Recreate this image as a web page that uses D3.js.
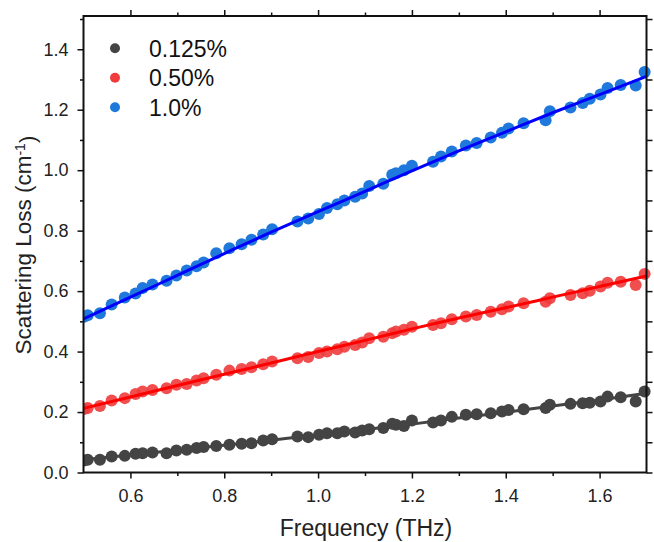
<!DOCTYPE html>
<html>
<head>
<meta charset="utf-8">
<script src="https://cdn.jsdelivr.net/npm/d3@7"></script>
<style>
    body { margin: 0; background: #fff; }
    text { font-family: "Liberation Sans", Arial, sans-serif; }
</style>
</head>
<body>
<svg id="chart"></svg>
<script>
// frequencies (THz) shared by all three samples
const freq = [0.501, 0.509, 0.535, 0.560, 0.588, 0.611, 0.626, 0.647, 0.677, 0.698,
    0.720, 0.741, 0.756, 0.783, 0.811, 0.837, 0.858, 0.883, 0.902, 0.956,
    0.979, 1.002, 1.019, 1.041, 1.056, 1.079, 1.094, 1.109, 1.139, 1.158,
    1.166, 1.183, 1.200, 1.245, 1.262, 1.285, 1.315, 1.338, 1.368, 1.392,
    1.406, 1.438, 1.485, 1.494, 1.538, 1.564, 1.579, 1.602, 1.617, 1.645,
    1.677, 1.696];

const loss0125 = [0.040, 0.042, 0.042, 0.053, 0.055, 0.062, 0.064, 0.066, 0.064, 0.073,
    0.075, 0.081, 0.084, 0.088, 0.092, 0.095, 0.097, 0.106, 0.110, 0.119,
    0.117, 0.125, 0.130, 0.130, 0.136, 0.132, 0.139, 0.143, 0.147, 0.161,
    0.158, 0.154, 0.172, 0.165, 0.172, 0.184, 0.191, 0.193, 0.196, 0.202,
    0.207, 0.209, 0.213, 0.224, 0.227, 0.229, 0.231, 0.235, 0.251, 0.249,
    0.235, 0.268];

const loss050 = [0.210, 0.213, 0.220, 0.238, 0.246, 0.260, 0.268, 0.273, 0.279, 0.290,
    0.293, 0.304, 0.312, 0.323, 0.337, 0.342, 0.348, 0.358, 0.367, 0.378,
    0.382, 0.395, 0.400, 0.408, 0.416, 0.422, 0.430, 0.444, 0.449, 0.461,
    0.466, 0.472, 0.482, 0.488, 0.494, 0.507, 0.516, 0.521, 0.532, 0.540,
    0.549, 0.560, 0.565, 0.576, 0.587, 0.593, 0.601, 0.615, 0.628, 0.631,
    0.620, 0.657];

const loss10 = [0.515, 0.520, 0.527, 0.556, 0.579, 0.592, 0.610, 0.622, 0.634, 0.652,
    0.668, 0.682, 0.695, 0.725, 0.742, 0.755, 0.770, 0.787, 0.805, 0.830,
    0.840, 0.855, 0.875, 0.887, 0.900, 0.912, 0.923, 0.948, 0.955, 0.985,
    0.990, 1.000, 1.015, 1.028, 1.045, 1.062, 1.082, 1.090, 1.108, 1.124,
    1.138, 1.155, 1.165, 1.195, 1.207, 1.222, 1.236, 1.250, 1.272, 1.282,
    1.280, 1.325];

// fitted curves, every 0.1 THz
const fitFreq = [0.5, 0.6, 0.7, 0.8, 0.9, 1.0, 1.1, 1.2, 1.3, 1.4, 1.5, 1.6, 1.7];
const fit0125 = [0.042, 0.058, 0.074, 0.090, 0.107, 0.124, 0.142, 0.160, 0.180, 0.199, 0.220, 0.240, 0.262];
const fit050 = [0.212, 0.250, 0.288, 0.325, 0.362, 0.400, 0.437, 0.475, 0.511, 0.545, 0.580, 0.615, 0.650];
const fit10 = [0.508, 0.580, 0.652, 0.724, 0.795, 0.863, 0.930, 0.998, 1.064, 1.127, 1.190, 1.250, 1.310];

const seriesNames = ["0.125%", "0.50%", "1.0%"];
const xTicks = [0.6, 0.8, 1.0, 1.2, 1.4, 1.6];
const yTicks = [0.0, 0.2, 0.4, 0.6, 0.8, 1.0, 1.2, 1.4];

const dotColors = ["#444444", "#f03c3c", "#1f78dc"];
const lineColors = ["#444444", "#ff0000", "#0000ff"];

function drawChart() {
    const width = 654;
    const height = 542;
    const margin = { left: 83.5, right: 7.5, top: 16, bottom: 69.5 };
    const plotW = width - margin.left - margin.right;
    const plotH = height - margin.top - margin.bottom;

    const svg = d3.select("#chart").attr("width", width).attr("height", height);
    svg.selectAll("*").remove();

    const x = d3.scaleLinear().domain([0.5, 1.7]).range([0, plotW]);
    const y = d3.scaleLinear().domain([0, 1.51]).range([plotH, 0]);

    const g = svg.append("g").attr("transform", "translate(" + margin.left + "," + margin.top + ")");

    svg.append("defs").append("clipPath").attr("id", "plotclip")
        .append("rect").attr("x", 0).attr("y", -7).attr("width", plotW + 7).attr("height", plotH + 7);

    const series = [
        { name: seriesNames[0], pts: loss0125, fit: fit0125 },
        { name: seriesNames[1], pts: loss050, fit: fit050 },
        { name: seriesNames[2], pts: loss10, fit: fit10 }
    ];

    const dataLayer = g.append("g").attr("clip-path", "url(#plotclip)");

    const fitLine = d3.line()
        .x(function (d) { return x(d[0]); })
        .y(function (d) { return y(d[1]); })
        .curve(d3.curveMonotoneX);

    series.forEach(function (s, i) {
        const pts = freq.map(function (f, j) { return [f, s.pts[j]]; });
        dataLayer.append("g")
            .selectAll("circle")
            .data(pts)
            .enter()
            .append("circle")
            .attr("cx", function (d) { return x(d[0]); })
            .attr("cy", function (d) { return y(d[1]); })
            .attr("r", 6)
            .attr("fill", dotColors[i])
            .attr("fill-opacity", i === 1 ? 0.9 : 1);

        dataLayer.append("path")
            .datum(fitFreq.map(function (f, j) { return [f, s.fit[j]]; }))
            .attr("fill", "none")
            .attr("stroke", lineColors[i])
            .attr("stroke-width", 3)
            .attr("d", fitLine);
    });

    // minor ticks every 0.1
    const xMinor = d3.range(0.7, 1.7, 0.2);
    const yMinor = d3.range(0.1, 1.51, 0.2);

    function styleAxis(sel) {
        sel.select(".domain").remove();
        sel.selectAll(".tick line").attr("stroke", "#111").attr("stroke-width", 1.5);
        sel.selectAll(".tick text").attr("fill", "#222").style("font-size", "18px");
    }

    g.append("g").attr("transform", "translate(0," + plotH + ")")
        .call(d3.axisBottom(x).tickValues(xTicks).tickFormat(d3.format(".1f")).tickSize(6).tickPadding(11))
        .call(styleAxis);
    g.append("g").attr("transform", "translate(0," + plotH + ")")
        .call(d3.axisBottom(x).tickValues(xMinor).tickFormat("").tickSize(3.5))
        .call(styleAxis);

    g.append("g")
        .call(d3.axisTop(x).tickValues(xTicks).tickFormat("").tickSize(6))
        .call(styleAxis);
    g.append("g")
        .call(d3.axisTop(x).tickValues(xMinor).tickFormat("").tickSize(3.5))
        .call(styleAxis);

    g.append("g")
        .call(d3.axisLeft(y).tickValues(yTicks).tickFormat(d3.format(".1f")).tickSize(6).tickPadding(9))
        .call(styleAxis);
    g.append("g")
        .call(d3.axisLeft(y).tickValues(yMinor).tickFormat("").tickSize(3.5))
        .call(styleAxis);

    g.append("g").attr("transform", "translate(" + plotW + ",0)")
        .call(d3.axisRight(y).tickValues(yTicks.concat(yMinor)).tickFormat("").tickSize(6))
        .call(styleAxis);

    // frame
    g.append("rect")
        .attr("x", 0).attr("y", 0)
        .attr("width", plotW).attr("height", plotH)
        .attr("fill", "none")
        .attr("stroke", "#111")
        .attr("stroke-width", 2);

    // legend
    const legend = g.append("g").attr("transform", "translate(31.5,32.3)");
    series.forEach(function (s, i) {
        const row = legend.append("g").attr("transform", "translate(0," + (i * 29.5) + ")");
        row.append("circle").attr("r", 5).attr("fill", dotColors[i]);
        row.append("text")
            .attr("x", 34)
            .attr("dy", "0.36em")
            .attr("fill", "#111")
            .style("font-size", "23px")
            .text(s.name);
    });

    // axis titles
    svg.append("text")
        .attr("x", 366)
        .attr("y", 536)
        .attr("text-anchor", "middle")
        .attr("fill", "#222")
        .style("font-size", "23px")
        .text("Frequency (THz)");

    const yTitle = svg.append("text")
        .attr("transform", "translate(31,245) rotate(-90)")
        .attr("text-anchor", "middle")
        .attr("fill", "#222")
        .style("font-size", "22.5px");
    yTitle.append("tspan").text("Scattering Loss (cm");
    yTitle.append("tspan").attr("dy", "-0.45em").style("font-size", "14px").text("-1");
    yTitle.append("tspan").attr("dy", "0.45em").text(")");
}

drawChart();
</script>
</body>
</html>
